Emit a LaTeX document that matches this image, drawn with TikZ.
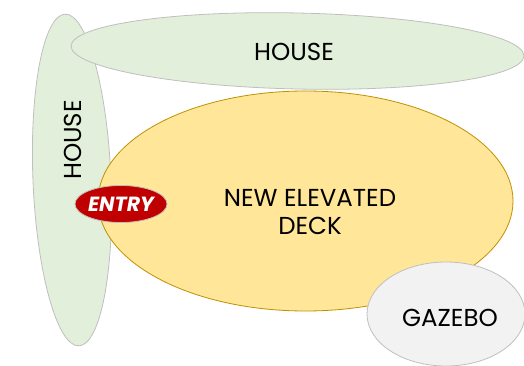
\documentclass[tikz,border=0pt]{standalone}
\usepackage{fontspec}
\setmainfont{Poppins}
\usetikzlibrary{shapes.geometric}
\definecolor{housefill}{RGB}{226,239,218}
\definecolor{shapeline}{RGB}{191,191,191}
\definecolor{deckfill}{RGB}{255,230,153}
\definecolor{deckline}{RGB}{191,144,0}
\definecolor{gazebofill}{RGB}{242,242,242}
\definecolor{entryfill}{RGB}{192,0,0}

\begin{document}
\begin{tikzpicture}[x=1pt, y=-1pt,
		area/.style={draw=shapeline, ellipse, line width=0.8pt, inner sep=0pt},
		label/.style={font=\fontsize{24.5}{28}\selectfont, text=black}]
		\useasboundingbox (0,0) rectangle (524,366);

		% House, side wing
		\node[area, fill=housefill, minimum width=78pt, minimum height=332pt, rotate=2.4] (houseside) at (72, 180) {};
		% House, main block
		\node[area, fill=housefill, minimum width=453pt, minimum height=76pt, rotate=-1.26] (housetop) at (297.5, 51) {};

		% Deck
		\node[area, draw=deckline, fill=deckfill, minimum width=415pt, minimum height=220pt] (deck) at (305.5, 201) {};

		% Gazebo
		\node[area, fill=gazebofill, minimum width=158pt, minimum height=104pt] (gazebo) at (446, 314) {};

		% Labels
		\node[label] (housetoplbl) at (294, 52) {HOUSE};
		\node[label, rotate=90] (housesidelbl) at (73, 140) {HOUSE};
		\node[label, align=center] (decklbl) at (310, 212) {NEW ELEVATED\\DECK};
		\node[label] (gazebolbl) at (450, 318) {GAZEBO};

		% Entry
		\node[area, fill=entryfill, minimum width=92pt, minimum height=37pt, inner xsep=-8pt, inner ysep=-4pt,
			text=white, font=\fontsize{20.5}{24}\selectfont\bfseries\itshape] (entry) at (121, 204) {ENTRY};
	\end{tikzpicture}
\end{document}
